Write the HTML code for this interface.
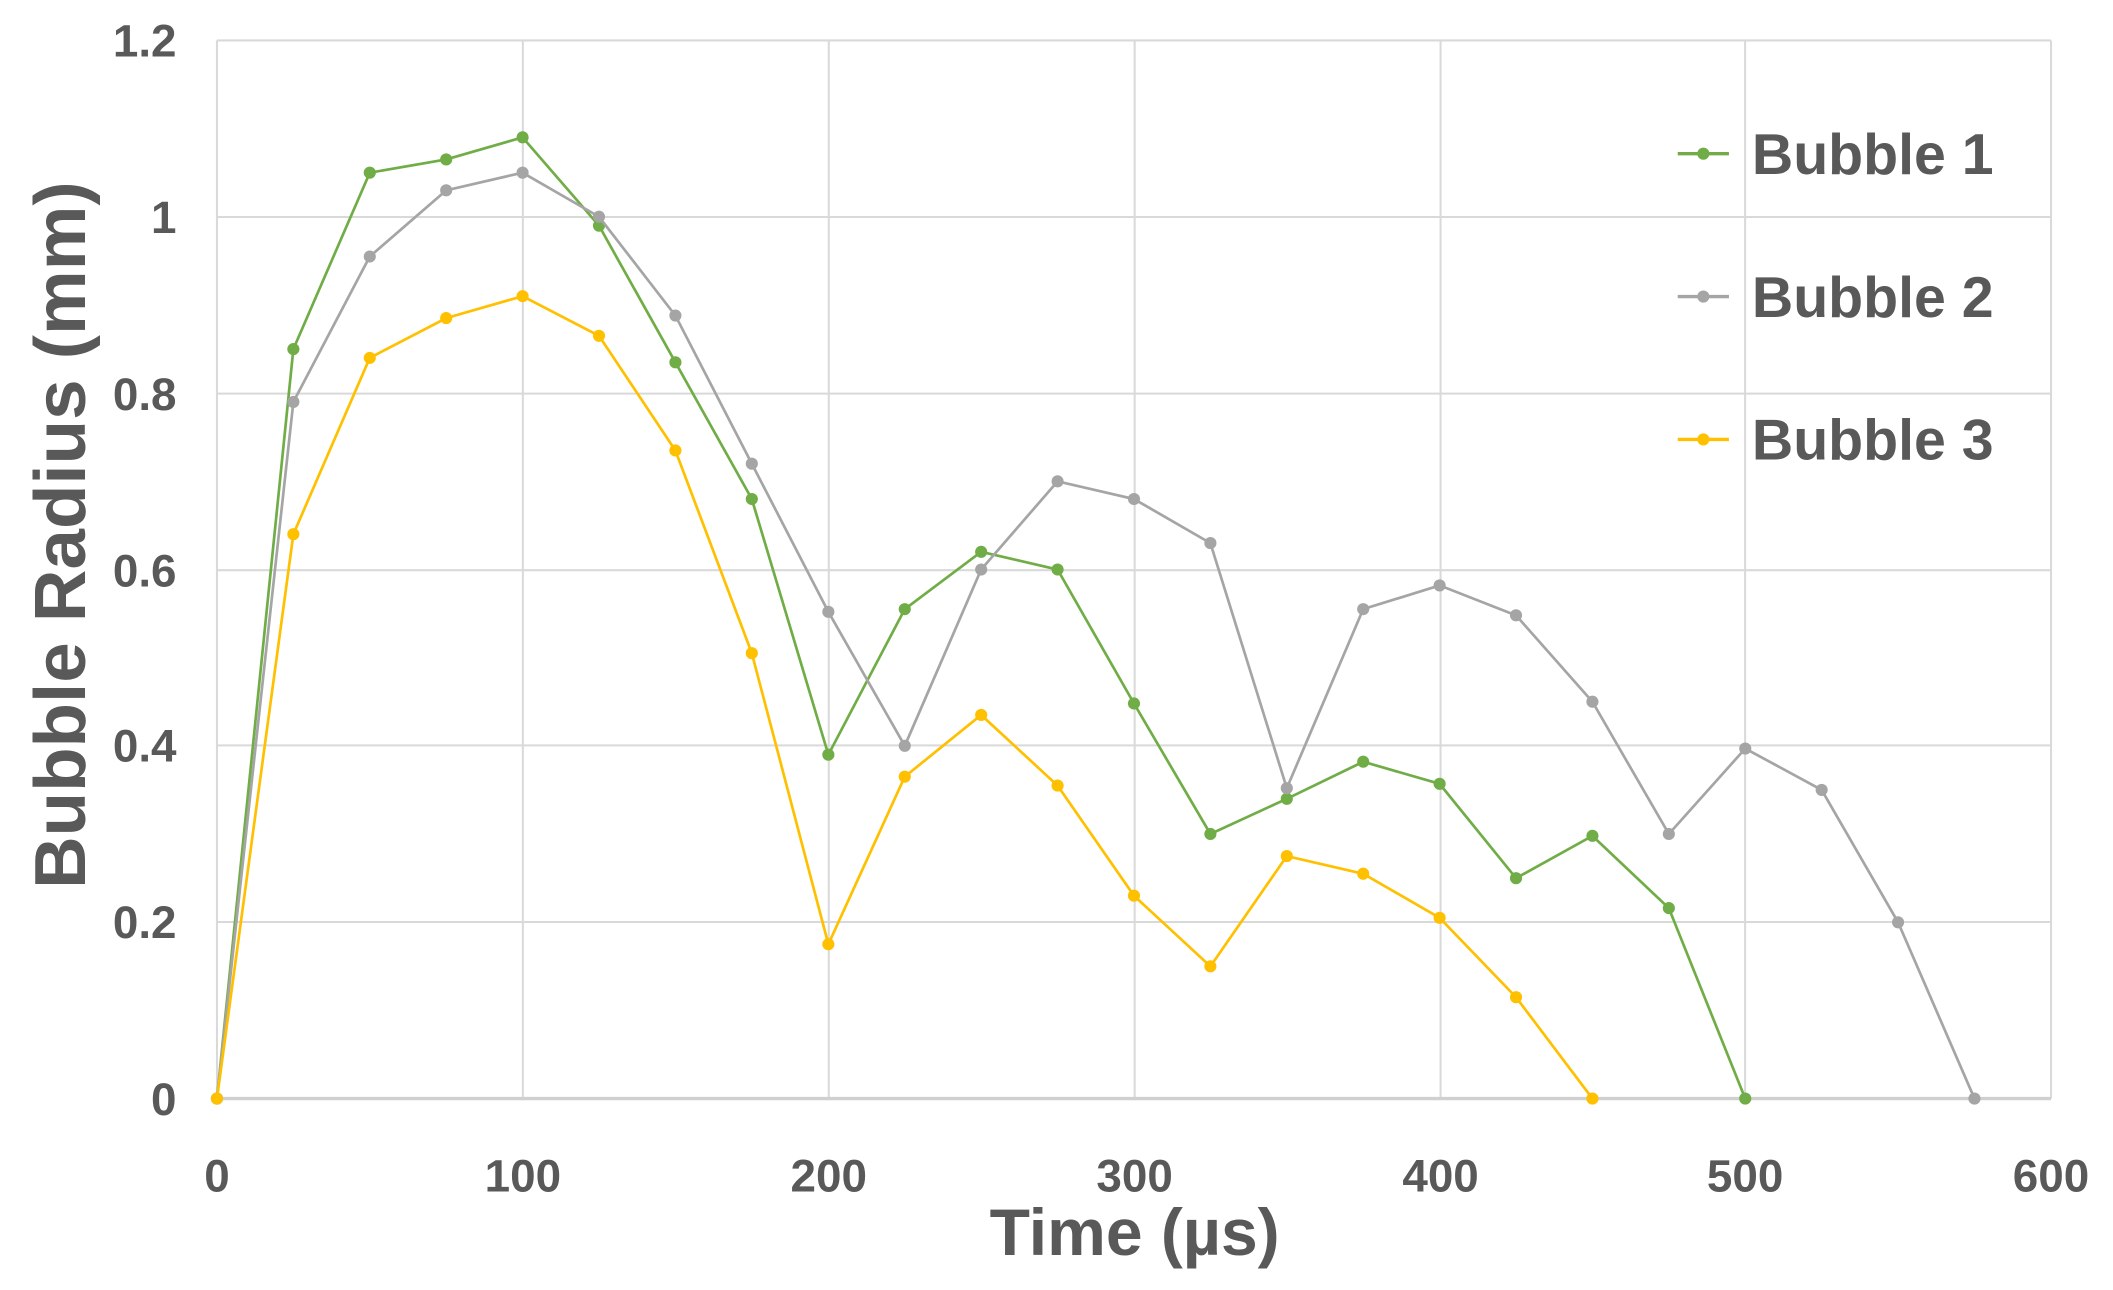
<!DOCTYPE html>
<html><head><meta charset="utf-8"><style>
html,body{margin:0;padding:0;background:#fff}
svg{display:block}
text{font-family:"Liberation Sans",sans-serif;font-weight:bold;fill:#595959}
</style></head><body>
<svg width="2113" height="1290" viewBox="0 0 1568 957" preserveAspectRatio="none" xmlns="http://www.w3.org/2000/svg">
<defs>
<marker id="mg" markerUnits="userSpaceOnUse" markerWidth="12" markerHeight="12" refX="6" refY="6"><circle cx="6" cy="6" r="4.5" fill="#70AD47"/></marker>
<marker id="ma" markerUnits="userSpaceOnUse" markerWidth="12" markerHeight="12" refX="6" refY="6"><circle cx="6" cy="6" r="4.5" fill="#A5A5A5"/></marker>
<marker id="my" markerUnits="userSpaceOnUse" markerWidth="12" markerHeight="12" refX="6" refY="6"><circle cx="6" cy="6" r="4.5" fill="#FFC000"/></marker>
</defs>
<g stroke="#D9D9D9" stroke-width="1.5">
<line x1="161" y1="30" x2="1522" y2="30"/>
<line x1="161" y1="161" x2="1522" y2="161"/>
<line x1="161" y1="292" x2="1522" y2="292"/>
<line x1="161" y1="423" x2="1522" y2="423"/>
<line x1="161" y1="553" x2="1522" y2="553"/>
<line x1="161" y1="684" x2="1522" y2="684"/>
<line x1="161" y1="30" x2="161" y2="815"/>
<line x1="388" y1="30" x2="388" y2="815"/>
<line x1="615" y1="30" x2="615" y2="815"/>
<line x1="842" y1="30" x2="842" y2="815"/>
<line x1="1069" y1="30" x2="1069" y2="815"/>
<line x1="1295" y1="30" x2="1295" y2="815"/>
<line x1="1522" y1="30" x2="1522" y2="815"/>
</g>
<line x1="161" y1="815" x2="1522" y2="815" stroke="#D0D0D0" stroke-width="2.5"/>
<g fill="none" stroke-width="2">
<polyline stroke="#70AD47" marker-start="url(#mg)" marker-mid="url(#mg)" marker-end="url(#mg)" points="161,815 217.7,259 274.4,128.1 331.1,118.3 387.8,101.9 444.5,167.4 501.2,268.8 557.9,370.2 614.7,559.9 671.4,451.9 728.1,409.4 784.8,422.5 841.5,521.9 898.2,618.7 954.9,592.6 1011.6,565.1 1068.3,581.5 1125,651.5 1181.7,620.1 1238.4,673.7 1295.1,815"/>
<polyline stroke="#A5A5A5" marker-start="url(#ma)" marker-mid="url(#ma)" marker-end="url(#ma)" points="161,815 217.7,298.2 274.4,190.3 331.1,141.2 387.8,128.1 444.5,160.8 501.2,234.1 557.9,344 614.7,453.9 671.4,553.3 728.1,422.5 784.8,357.1 841.5,370.2 898.2,402.9 954.9,584.7 1011.6,451.9 1068.3,434.3 1125,456.5 1181.7,520.6 1238.4,618.7 1295.1,555.3 1351.8,586 1408.5,684.2 1465.2,815"/>
<polyline stroke="#FFC000" marker-start="url(#my)" marker-mid="url(#my)" marker-end="url(#my)" points="161,815 217.7,396.3 274.4,265.5 331.1,236 387.8,219.7 444.5,249.1 501.2,334.2 557.9,484.6 614.7,700.5 671.4,576.2 728.1,530.4 784.8,582.8 841.5,664.5 898.2,716.9 954.9,635.1 1011.6,648.2 1068.3,680.9 1125,739.8 1181.7,815"/>
</g>
<g font-size="34" text-anchor="end">
<text x="131" y="42">1.2</text>
<text x="131" y="173">1</text>
<text x="131" y="304">0.8</text>
<text x="131" y="435">0.6</text>
<text x="131" y="565">0.4</text>
<text x="131" y="696">0.2</text>
<text x="131" y="827">0</text>
</g>
<g font-size="34" text-anchor="middle">
<text x="161" y="884">0</text>
<text x="388" y="884">100</text>
<text x="615" y="884">200</text>
<text x="842" y="884">300</text>
<text x="1069" y="884">400</text>
<text x="1295" y="884">500</text>
<text x="1522" y="884">600</text>
</g>
<text x="842" y="931" font-size="49" text-anchor="middle">Time (µs)</text>
<text transform="translate(63,397) rotate(-90)" font-size="54" text-anchor="middle">Bubble Radius (mm)</text>
<g stroke-width="2.5">
<line x1="1245" y1="114" x2="1283" y2="114" stroke="#70AD47"/>
<line x1="1245" y1="220" x2="1283" y2="220" stroke="#A5A5A5"/>
<line x1="1245" y1="326" x2="1283" y2="326" stroke="#FFC000"/>
</g>
<circle cx="1264" cy="114" r="4.5" fill="#70AD47"/>
<circle cx="1264" cy="220" r="4.5" fill="#A5A5A5"/>
<circle cx="1264" cy="326" r="4.5" fill="#FFC000"/>
<g font-size="42.5">
<text x="1300" y="129">Bubble 1</text>
<text x="1300" y="235">Bubble 2</text>
<text x="1300" y="341">Bubble 3</text>
</g>
</svg>
</body></html>
